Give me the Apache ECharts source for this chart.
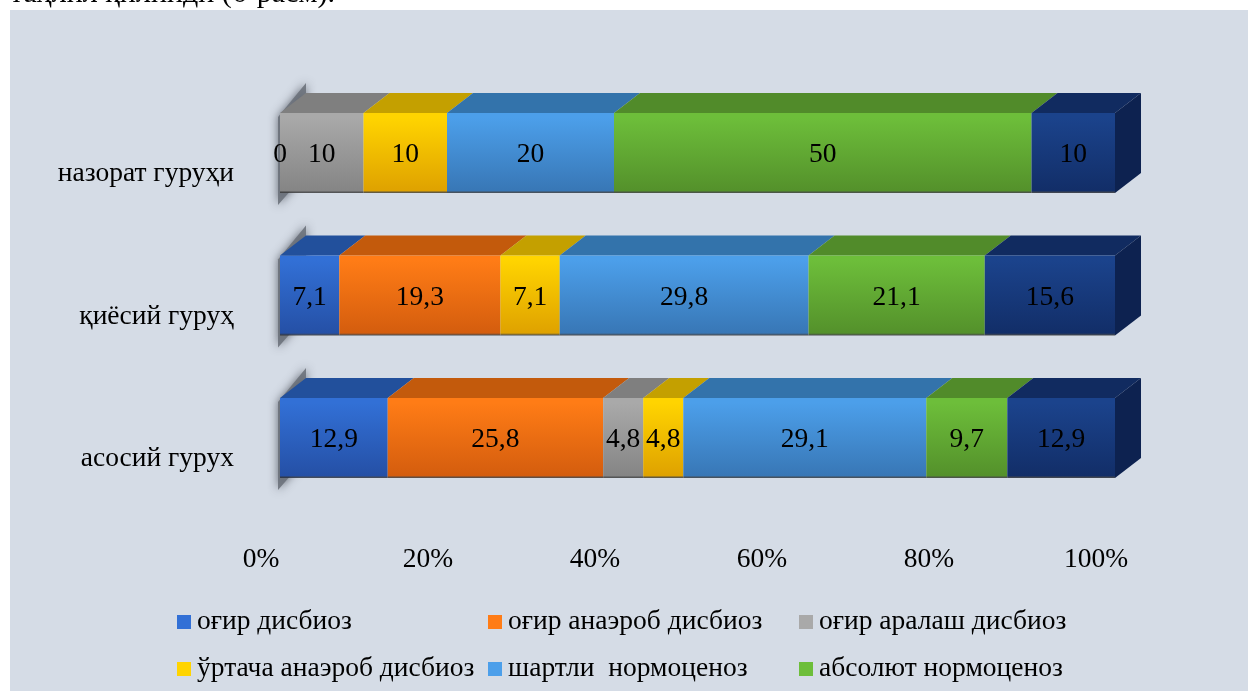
<!DOCTYPE html>
<html><head><meta charset="utf-8">
<script src="https://cdn.jsdelivr.net/npm/echarts@6/dist/echarts.min.js"></script>
<style>html,body{margin:0;padding:0;background:#fff}#c{width:1248px;height:691px}</style>
</head><body><div id="c"></div>
<script>
const categories = ['асосий гурух', 'қиёсий гуруҳ', 'назорат гуруҳи'];
const seriesNames = ['оғир дисбиоз', 'оғир анаэроб дисбиоз', 'оғир аралаш дисбиоз', 'ўртача анаэроб дисбиоз', 'шартли  нормоценоз', 'абсолют нормоценоз', 'нормоценоз'];
const ogirDisbioz    = [12.9, 7.1, null];
const ogirAnaerob    = [25.8, 19.3, 0];
const ogirAralash    = [4.8, null, 10];
const urtachaAnaerob = [4.8, 7.1, 10];
const shartliNorm    = [29.1, 29.8, 20];
const absolyutNorm   = [9.7, 21.1, 50];
const boshqa         = [12.9, 15.6, 10];
const xTickFormat = '{value}%';
const captionText = 'таҳлил қилинди (6-расм).';

const allValues = [ogirDisbioz, ogirAnaerob, ogirAralash, urtachaAnaerob, shartliNorm, absolyutNorm, boshqa];
const palette = [
  {front:['#3270d6','#2550a6'], top:'#22509c', side:'#1a3c78'},
  {front:['#ff7c16','#d45d0e'], top:'#c35a0c', side:'#9a4608'},
  {front:['#a9a9a9','#858585'], top:'#7f7f7f', side:'#666'},
  {front:['#ffd400','#dfa200'], top:'#c4a000', side:'#9c7d00'},
  {front:['#4c9fea','#3877b6'], top:'#3373ab', side:'#285c8a'},
  {front:['#6dbe3a','#54912b'], top:'#518b2a', side:'#3e6c20'},
  {front:['#1b438c','#122e68'], top:'#112b60', side:'#0d2250'}
];
const FONT = '"Liberation Serif","Times New Roman",serif';
const FS = 27.5;

// stacked data
const cum = categories.map(() => 0);
const stacked = allValues.map(arr => {
  const out = [];
  arr.forEach((v, i) => {
    if (v === null || v === undefined) return;
    const s = cum[i], e = cum[i] + v;
    cum[i] = e;
    out.push([s, e, i, v]);
  });
  return out;
});
const labelData = [].concat(...stacked);

function geom(api) {
  const band = api.size([0, 1])[1];
  return {band, h: band * 0.5614, dx: band * 0.1825, dy: band * 0.14};
}

function makeRender(pi) {
  const c = palette[pi];
  return function (params, api) {
    const s = api.value(0), e = api.value(1), ci = api.value(2);
    const p0 = api.coord([s, ci]), p1 = api.coord([e, ci]);
    const g = geom(api);
    const yT = p0[1] - g.h / 2, yB = p0[1] + g.h / 2;
    const x0 = p0[0], x1 = p1[0];
    const children = [];
    if (x1 - x0 > 0.1) {
      children.push({type: 'polygon', shape: {points: [[x0, yT], [x0 + g.dx, yT - g.dy], [x1 + g.dx, yT - g.dy], [x1, yT]]},
        style: {fill: c.top}});
      children.push({type: 'rect', shape: {x: x0, y: yT, width: x1 - x0, height: g.h},
        style: {fill: new echarts.graphic.LinearGradient(0, 0, 0, 1, [
          {offset: 0, color: c.front[0]}, {offset: 0.06, color: c.front[0]}, {offset: 0.97, color: c.front[1]}, {offset: 1, color: 'rgba(40,40,40,0.8)'}])}});
      if (e >= 99.95) {
        children.push({type: 'polygon', shape: {points: [[x1, yT], [x1 + g.dx, yT - g.dy], [x1 + g.dx, yB - g.dy], [x1, yB]]},
          style: {fill: c.side}});
      }
    }
    return {type: 'group', children};
  };
}

const series = seriesNames.map((name, i) => ({
  name, type: 'custom', z: 3,
  itemStyle: {color: palette[i].front[0]},
  encode: {x: [0, 1], y: 2},
  data: stacked[i],
  renderItem: makeRender(i),
  silent: true
}));

// left wall shadow behind bars
series.unshift({
  name: '_wall', type: 'custom', z: 1, silent: true,
  data: categories.map((c, i) => [0, i]),
  encode: {x: 0, y: 1},
  renderItem: function (params, api) {
    const p = api.coord([api.value(0), api.value(1)]);
    const g = geom(api);
    const yT = p[1] - g.h / 2, yB = p[1] + g.h / 2;
    return {type: 'polygon', shape: {points: [[p[0] - 2, yT + 4], [p[0] + g.dx, yT - g.dy - 10], [p[0] + g.dx, yB - g.dy], [p[0] - 2, yB + 12]]},
      style: {fill: 'rgba(105,110,120,0.85)', shadowBlur: 10, shadowColor: 'rgba(80,85,95,1)'}};
  }
});

// labels on top
series.push({
  name: '_labels', type: 'custom', z: 5, silent: true,
  data: labelData,
  encode: {x: [0, 1], y: 2},
  renderItem: function (params, api) {
    const s = api.value(0), e = api.value(1), ci = api.value(2), v = api.value(3);
    const p0 = api.coord([s, ci]), p1 = api.coord([e, ci]);
    return {type: 'text', x: (p0[0] + p1[0]) / 2, y: p0[1] + 2,
      style: {text: String(v).replace('.', ','), font: FS + 'px ' + FONT, fill: '#000', align: 'center', verticalAlign: 'middle'}};
  }
});

const legendPos = [[177, 608], [488, 608], [799, 608], [177, 655], [488, 655], [799, 655]];
const legends = legendPos.map((p, i) => ({
  data: [seriesNames[i]], left: p[0], top: p[1], itemWidth: 14, itemHeight: 14, itemGap: 0,
  icon: 'rect', selectedMode: false, padding: 0,
  textStyle: {fontFamily: FONT, fontSize: FS, color: '#000', padding: [0, 0, 0, 1]}
}));

const chart = echarts.init(document.getElementById('c'), null, {renderer: 'canvas'});
chart.setOption({
  backgroundColor: '#ffffff',
  animation: false,
  color: palette.map(p => p.front[0]),
  graphic: [
    {type: 'rect', left: 10, top: 10, shape: {width: 1238, height: 681}, style: {fill: '#d5dce6'}, z: -10},
    {type: 'text', x: 10, y: -6, style: {text: captionText, font: '30px ' + FONT, fill: '#000', verticalAlign: 'middle'}, z: -5}
  ],
  grid: {left: 280, right: 133, top: 81.75, bottom: 181.75},
  xAxis: {type: 'value', min: 0, max: 100, interval: 20,
    axisLine: {show: false}, axisTick: {show: false}, splitLine: {show: false},
    axisLabel: {formatter: xTickFormat, fontFamily: FONT, fontSize: FS, color: '#000', margin: 37, padding: [0, 38, 0, 0]}},
  yAxis: {type: 'category', data: categories,
    axisLine: {show: false}, axisTick: {show: false}, splitLine: {show: false},
    axisLabel: {fontFamily: FONT, fontSize: FS, color: '#000', margin: 46, verticalAlign: 'top', lineHeight: 42}},
  legend: legends,
  series
});
</script></body></html>
